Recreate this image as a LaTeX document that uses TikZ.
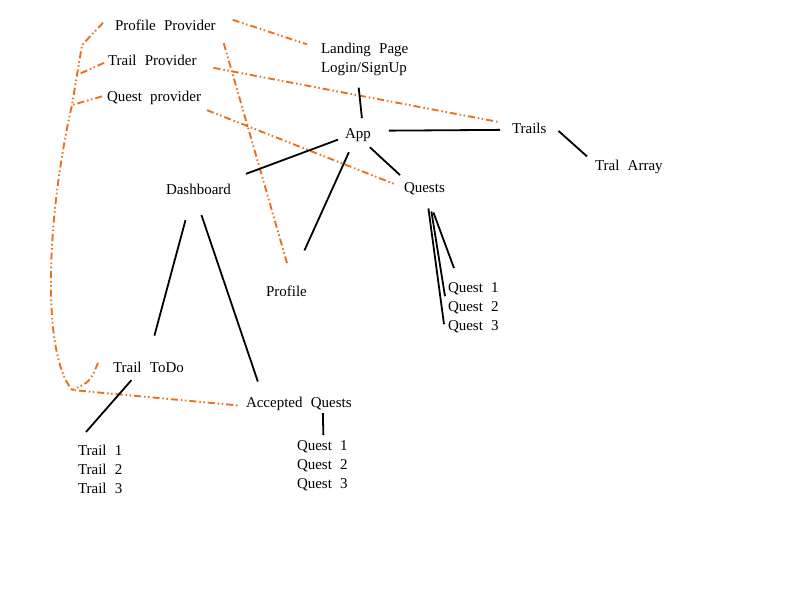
\documentclass[tikz,border=0pt]{standalone}
\usepackage{fontspec}
\setmainfont{Liberation Serif}[WordSpace=2.2]
\usepackage{xcolor}
\definecolor{provorange}{RGB}{235,112,30}

\begin{document}
\begin{tikzpicture}[x=1pt,y=-1pt,
  lbl/.style={anchor=base west,inner sep=0pt,outer sep=0pt,font=\fontsize{15}{19}\selectfont},
  lst/.style={lbl,anchor=north west,align=left},
  link/.style={line width=1.8pt},
  prov/.style={provorange,line width=1.9pt,dash pattern=on 7pt off 3pt on 1.5pt off 2.5pt on 1.5pt off 3pt}]

\useasboundingbox (0,0) rectangle (800,600);

\node[lbl] (pprov) at (115,30) {Profile Provider};
\node[lbl] (tprov) at (108,65) {Trail Provider};
\node[lbl] (qprov) at (107,101) {Quest provider};
\node[lst] (land) at (321,43) {Landing Page\\Login/SignUp};
\node[lbl] (app) at (345,138) {App};
\node[lbl] (trails) at (512,133) {Trails};
\node[lbl] (tral) at (595,170) {Tral Array};
\node[lbl] (dboard) at (166,194) {Dashboard};
\node[lbl] (quests) at (404,192) {Quests};
\node[lbl] (profile) at (266,296) {Profile};
\node[lbl] (qa1) at (448,292) {Quest 1};
\node[lbl] (qa2) at (448,311) {Quest 2};
\node[lbl] (qa3) at (448,330) {Quest 3};
\node[lbl] (todo) at (113,372) {Trail ToDo};
\node[lbl] (accq) at (246,407) {Accepted Quests};
\node[lst] (tlist) at (78,445) {Trail 1\\Trail 2\\Trail 3};
\node[lst] (qlist) at (297,441) {Quest 1\\Quest 2\\Quest 3};

\coordinate (lk) at (82,45);
\coordinate (lt) at (77,75);
\coordinate (lq) at (72,105);
\coordinate (lb) at (72,390);

\draw[prov] ([shift={(-12,-2)}]pprov.west) -- (lk) -- (lq) .. controls (48,210) and (40,350) .. (lb) -- ([shift={(-8,2)}]accq.west);
\draw[prov] ([shift={(-4,3)}]tprov.west) -- (lt);
\draw[prov] ([shift={(-5,-1)}]qprov.west) -- (lq);
\draw[prov] ([shift={(-15,-4)}]todo.west) .. controls (90,382) .. (lb);
\draw[prov] ([shift={(17,-5)}]pprov.east) -- ([shift={(-14,-15)}]land.west);
\draw[prov] ([shift={(8,13)}]pprov.south east) -- ([shift={(1,-21)}]profile.north);
\draw[prov] ([shift={(17,8)}]tprov.east) -- ([shift={(-14,-6)}]trails.west);
\draw[prov] ([shift={(6,6)}]qprov.south east) -- ([shift={(-9,-4)}]quests.west);

\draw[link] ([shift={(-6,12)}]land.south) -- ([shift={(4,-10)}]app.north);
\draw[link] ([shift={(18,-4)}]app.east) -- ([shift={(-12,2)}]trails.west);
\draw[link] ([shift={(12,3)}]trails.east) -- ([shift={(-8,-10)}]tral.west);
\draw[link] ([shift={(-7,5)}]app.west) -- ([shift={(15,-15)}]dboard.east);
\draw[link] ([shift={(-1,6)}]app.south east) -- ([shift={(-4,-7)}]quests.north west);
\draw[link] ([shift={(-9,11)}]app.south) -- ([shift={(18,-35)}]profile.north);
\draw[link] ([shift={(-13,26)}]dboard.south) -- ([shift={(6,-26)}]todo.north);
\draw[link] ([shift={(3,21)}]dboard.south) -- ([shift={(-41,-15)}]accq.north);
\draw[link] ([shift={(-17,8)}]todo.south) -- ([shift={(8,-13)}]tlist.north west);
\draw[link] ([shift={(24,3)}]accq.south) -- ([shift={(1,-6)}]qlist.north);
\draw[link] ([shift={(4,14)}]quests.south) -- ([shift={(-4,-2)}]qa3.west);
\draw[link] ([shift={(7,17)}]quests.south) -- ([shift={(-3,-11)}]qa2.west);
\draw[link] ([shift={(9,18)}]quests.south) -- ([shift={(6,-14)}]qa1.north west);
\end{tikzpicture}
\end{document}
